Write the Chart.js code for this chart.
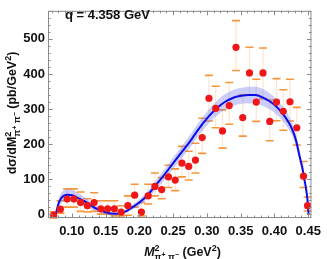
<!DOCTYPE html>
<html><head><meta charset="utf-8">
<script src="https://cdn.jsdelivr.net/npm/chart.js@4"></script>
<style>html,body{margin:0;padding:0;background:#fff;}canvas{display:block;}</style>
</head><body>
<canvas id="c" width="327" height="259"></canvas>
<script>
// ---- data ----
const dataX = [0.073,0.083,0.093,0.103,0.113,0.123,0.133,0.143,0.153,0.163,0.173,0.183,0.193,0.203,0.213,0.223,0.233,0.243,0.253,0.263,0.273,0.283,0.293,0.303,0.313,0.323,0.333,0.343,0.353,0.363,0.373,0.383,0.393,0.403,0.413,0.423,0.433,0.443,0.449];
const dataY = [-2,15,44,44,34,25,34,16,16,16,7,25,55,7,53,80,71,107,98,146,137,155,219,331,302,238,310,476,276,403,320,403,265,320,294,321,247,109,25];
const errLo = [-10,4,21,21,9,7,9,1,1,-4,-4,-2,21,-4,30,53,45,77,68,107,98,118,174,266,247,189,257,410,223,341,265,330,210,267,240,266,198,77,10];
const errHi = [8,39,73,73,64,45,62,39,39,39,25,53,86,34,86,118,105,140,130,194,180,203,274,396,365,298,376,552,341,476,385,474,326,387,355,385,305,151,50];

const fitX = [0.0763,0.080,0.084,0.088,0.094,0.100,0.107,0.115,0.123,0.132,0.142,0.152,0.162,0.171,0.180,0.190,0.200,0.213,0.225,0.238,0.250,0.262,0.275,0.286,0.303,0.315,0.327,0.340,0.351,0.362,0.372,0.383,0.394,0.404,0.413,0.421,0.427,0.432,0.437,0.441,0.444,0.447,0.449,0.4505];
const fitY = [0,30,46,53,56,55,49,41,33,21,12,5,2,3,9,21,34,57,85,116,146,176,208,239,280,303,321,333,338,340,340,333,321,305,285,262,239,210,167,135,103,70,39,0];
const bandLo = [0,20,32,37,40,39,34,28,22,12,5,0,-2,-1,4,14,25,46,72,101,130,159,190,220,260,282,299,310,315,316,316,309,298,283,264,242,221,194,153,123,93,63,34,-2];
const bandHi = [3,40,60,69,72,71,64,54,44,30,19,10,6,7,14,28,43,68,98,131,162,193,226,258,300,324,343,356,361,364,364,357,344,327,306,282,257,226,181,147,113,77,44,2];

const xTicks = [0.10,0.15,0.20,0.25,0.30,0.35,0.40,0.45];
const xTickLabels = ['0.10','0.15','0.20','0.25','0.30','0.35','0.40','0.45'];
const yTicks = [0,100,200,300,400,500];
const yTickLabels = ['0','100','200','300','400','500'];
const titleText = 'q = 4.358 GeV';

const FAM = '"Liberation Sans", Arial, sans-serif';
const pts = (xs, ys) => xs.map((x, i) => ({x, y: ys[i]}));

function richLabel(ctx, cx, baseY, pre, M_italic, post, s) {
  const ss = Math.round(s * 0.72), sss = Math.round(s * 0.55);
  const f = (sz, it) => (it ? 'italic ' : '') + 'bold ' + sz + 'px ' + FAM;
  const run = (x0, doDraw) => {
    let x = x0;
    const put = (t, font, dy) => {
      ctx.font = font;
      if (doDraw) ctx.fillText(t, x, baseY + dy);
      return ctx.measureText(t).width;
    };
    x += put(pre, f(s, false), 0);
    x += put('M', f(s, M_italic), 0);
    const xs = x;
    const w2 = put('2', f(ss, false), -s * 0.42);
    x = xs;
    x += put('π', f(ss, false), s * 0.32);
    x += put('+', f(sss, false), s * 0.32 - ss * 0.35);
    x += put(' π', f(ss, false), s * 0.32);
    x += put('−', f(sss, false), s * 0.32 - ss * 0.35);
    const wsub = x - xs;
    x = xs + Math.max(w2, wsub);
    x += put(post[0], f(s, false), 0);
    x += put('2', f(ss, false), -s * 0.42);
    x += put(post[1], f(s, false), 0);
    return x - x0;
  };
  const total = run(0, false);
  run(cx - total / 2, true);
}

const decor = {
  id: 'decor',
  beforeDatasetsDraw(chart) {
    const {ctx, scales: {x, y}} = chart;
    ctx.save();
    for (let i = 0; i < dataX.length; i++) {
      const px = x.getPixelForValue(dataX[i]);
      const p1 = y.getPixelForValue(errLo[i]);
      const p2 = y.getPixelForValue(errHi[i]);
      ctx.strokeStyle = 'rgba(250,205,160,0.5)';
      ctx.lineWidth = 1.2;
      ctx.beginPath(); ctx.moveTo(px, p1); ctx.lineTo(px, p2); ctx.stroke();
      ctx.strokeStyle = 'rgb(245,150,60)';
      ctx.lineWidth = 1.6;
      ctx.beginPath();
      ctx.moveTo(px - 4, p1); ctx.lineTo(px + 4, p1);
      ctx.moveTo(px - 4, p2); ctx.lineTo(px + 4, p2);
      ctx.stroke();
    }
    ctx.restore();
  },
  afterDraw(chart) {
    const {ctx, chartArea: a, scales: {x, y}} = chart;
    ctx.save();
    ctx.strokeStyle = '#8a8a8a';
    ctx.lineWidth = 1;
    ctx.strokeRect(a.left + 0.5, a.top + 0.5, a.right - a.left - 1, a.bottom - a.top - 1);
    ctx.beginPath();
    for (let v = 0; v <= 580; v += 20) {
      const py = Math.round(y.getPixelForValue(v)) + 0.5;
      if (py < a.top || py > a.bottom) continue;
      const len = (v % 100 === 0) ? 4.5 : 2.5;
      ctx.moveTo(a.left, py); ctx.lineTo(a.left + len, py);
      ctx.moveTo(a.right, py); ctx.lineTo(a.right - len, py);
    }
    for (let k = 7; k <= 45; k++) {
      const v = k / 100;
      const px = Math.round(x.getPixelForValue(v)) + 0.5;
      if (px < a.left || px > a.right) continue;
      const len = (k % 5 === 0) ? 4.5 : 2.5;
      ctx.moveTo(px, a.bottom); ctx.lineTo(px, a.bottom - len);
      ctx.moveTo(px, a.top); ctx.lineTo(px, a.top + len);
    }
    ctx.stroke();
    ctx.fillStyle = '#111';
    ctx.font = 'bold 13px ' + FAM;
    ctx.textAlign = 'left';
    ctx.textBaseline = 'middle';
    ctx.fillText(titleText, 65, 15);
    ctx.textBaseline = 'alphabetic';
    richLabel(ctx, 182.5, 256, '', true, [' (GeV', ')'], 12.5);
    ctx.translate(16, 113);
    ctx.rotate(-Math.PI / 2);
    richLabel(ctx, 0, 0, 'dσ/d', false, [' (pb/GeV', ')'], 12.5);
    ctx.restore();
  }
};

new Chart(document.getElementById('c'), {
  type: 'scatter',
  data: {
    datasets: [
      {label: 'data', data: pts(dataX, dataY), backgroundColor: 'rgb(238,22,22)', borderColor: 'rgb(238,22,22)', pointRadius: 3.6, borderWidth: 0, showLine: false},
      {label: 'fit', data: pts(fitX, fitY), showLine: true, borderColor: 'rgb(12,12,230)', borderWidth: 2, pointRadius: 0, cubicInterpolationMode: 'monotone', fill: false},
      {label: 'bandHi', data: pts(fitX, bandHi), showLine: true, borderWidth: 0, borderColor: 'rgba(0,0,0,0)', pointRadius: 0, cubicInterpolationMode: 'monotone', fill: '+1', backgroundColor: 'rgba(105,115,240,0.35)'},
      {label: 'bandLo', data: pts(fitX, bandLo), showLine: true, borderWidth: 0, borderColor: 'rgba(0,0,0,0)', pointRadius: 0, cubicInterpolationMode: 'monotone', fill: false}
    ]
  },
  options: {
    responsive: false, animation: false, devicePixelRatio: 1,
    layout: {padding: {top: 2, right: 8, left: 0, bottom: 0}},
    plugins: {legend: {display: false}, tooltip: {enabled: false}},
    scales: {
      x: {
        type: 'linear', min: 0.0647, max: 0.4547,
        grid: {display: false, drawTicks: false}, border: {display: false},
        afterBuildTicks: s => { s.ticks = xTicks.map(v => ({value: v})); },
        afterFit: s => { s.height = 41; },
        ticks: {color: '#111', padding: 6, maxRotation: 0, autoSkip: false,
          font: {family: FAM, size: 13, weight: 'bold'},
          callback: (v) => { const i = xTicks.findIndex(t => Math.abs(t - v) < 1e-9); return i >= 0 ? xTickLabels[i] : ''; }}
      },
      y: {
        type: 'linear', min: -10, max: 580,
        grid: {display: false, drawTicks: false}, border: {display: false},
        afterBuildTicks: s => { s.ticks = yTicks.map(v => ({value: v})); },
        afterFit: s => { s.width = 48; },
        ticks: {color: '#111', padding: 3, autoSkip: false,
          font: {family: FAM, size: 13, weight: 'bold'},
          callback: (v) => { const i = yTicks.indexOf(v); return i >= 0 ? yTickLabels[i] : ''; }}
      }
    }
  },
  plugins: [decor]
});
</script>
</body></html>
